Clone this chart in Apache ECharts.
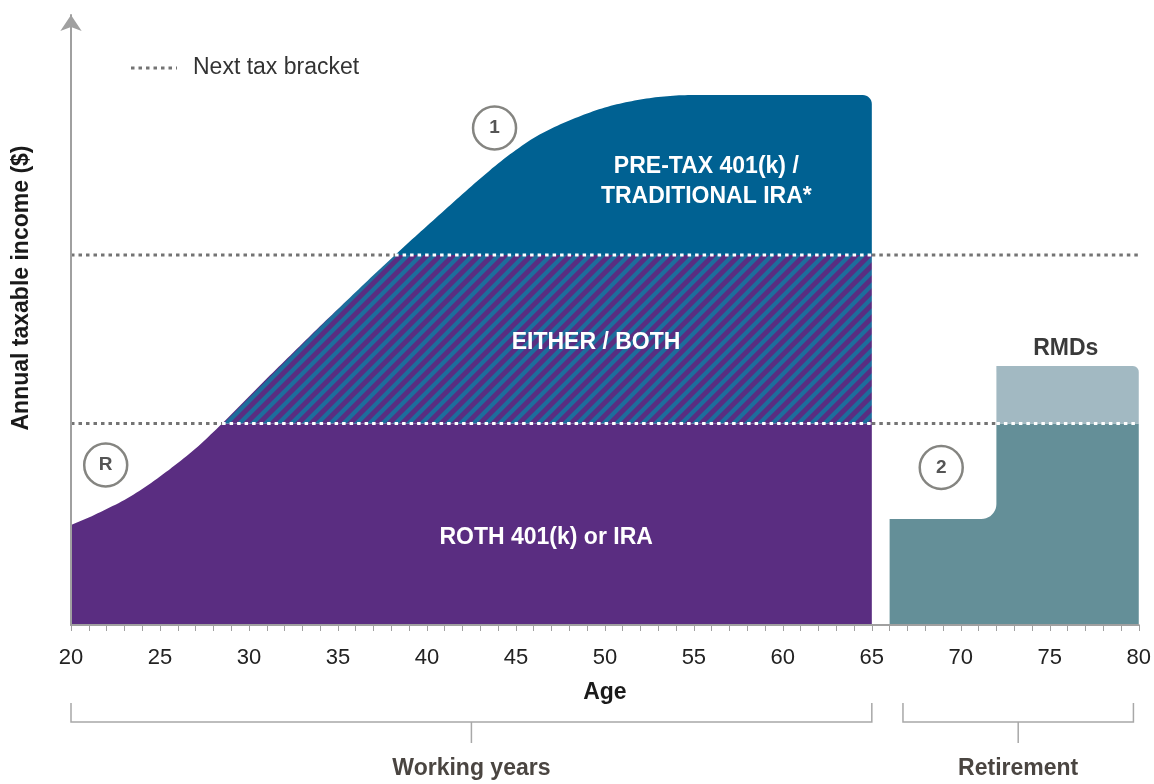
<!DOCTYPE html>
<html><head><meta charset="utf-8">
<script src="https://cdn.jsdelivr.net/npm/echarts@6/dist/echarts.min.js"></script>
<style>html,body{margin:0;padding:0;background:#fff}#c{width:1154px;height:784px}</style>
</head><body><div id="c"></div>
<script>
// ---------- data ----------
const ages = [20,21,22,23,24,25,26,27,28,29,30,31,32,33,34,35,36,37,38,39,40,41,42,43,44,45,46,47,48,49,50,51,52,53,54,55,56,57,58,59,60,61,62,63,64,65];
const income = [20.0,21.5,23.2,25.0,27.2,29.7,32.4,35.3,38.6,42.1,45.7,49.3,52.8,56.3,59.8,63.2,66.6,70.0,73.3,76.6,79.8,83.0,86.2,89.3,92.3,95.0,97.4,99.3,100.9,102.3,103.5,104.4,105.1,105.6,105.9,106,106,106,106,106,106,106,106,106,106,106];
const retireAges = [66, 72, 80];        // retirement start, RMDs start, end
const retireIncome = [21.2, 40.3];      // income before RMDs, base income after RMDs start
const rmdTop = 51.8;                    // income including RMDs
const bracketLevels = [40.3, 74];       // next tax brackets
const tickAges = [20,25,30,35,40,45,50,55,60,65,70,75,80];
const regionLabels = ['ROTH 401(k) or IRA', 'EITHER / BOTH', 'PRE-TAX 401(k) /\nTRADITIONAL IRA*', 'RMDs'];
const markerLabels = ['R', '1', '2'];
const periodLabels = ['Working years', 'Retirement'];

// ---------- annotation placement (data coords) ----------
const regionLabelPos = [[46.7,17.4],[49.5,56.4],[55.7,88.6],[75.9,55.2]];
const markerPos = [[21.95,32],[43.8,99.4],[68.9,31.5]];
const periodSpans = [[20,65],[66.75,79.7]];

const FONT = 'Liberation Sans, Arial, Helvetica, sans-serif';
const PURPLE = '#5a2d81', BLUE = '#006192', HATCH_BLUE = '#1d6d9c', TEAL = '#648f98', LIGHT = '#a2b9c2';
const DOT_GRAY = '#747474', AXIS_GRAY = '#a0a0a0';

function makeHatch(){
  const T = 13, c = document.createElement('canvas');
  c.width = T; c.height = T;
  const g = c.getContext('2d');
  g.fillStyle = PURPLE; g.fillRect(0,0,T,T);
  g.strokeStyle = HATCH_BLUE; g.lineWidth = 4.2;
  for (const k of [0, T, 2*T]) { g.beginPath(); g.moveTo(k+2,-2); g.lineTo(k-T-2,T+2); g.stroke(); }
  return c;
}
const hatch = {image: makeHatch(), repeat: 'repeat'};

// smooth drawing of the curve through the read points (monotone cubic, like smooth:true)
function smoothCurve(xs, ys, steps){
  const n = xs.length, d = [], m = new Array(n).fill(0);
  for (let i = 0; i < n-1; i++) d.push((ys[i+1]-ys[i])/(xs[i+1]-xs[i]));
  m[0] = d[0]; m[n-1] = d[n-2];
  for (let i = 1; i < n-1; i++) m[i] = (d[i-1]*d[i] <= 0) ? 0 : (d[i-1]+d[i])/2;
  const X = [], Y = [];
  for (let i = 0; i < n-1; i++){
    const h = xs[i+1]-xs[i];
    for (let k = 0; k < steps; k++){
      const t = k/steps, t2 = t*t, t3 = t2*t;
      X.push(xs[i] + t*h);
      Y.push((2*t3-3*t2+1)*ys[i] + (t3-2*t2+t)*h*m[i] + (-2*t3+3*t2)*ys[i+1] + (t3-t2)*h*m[i+1]);
    }
  }
  X.push(xs[n-1]); Y.push(ys[n-1]);
  return [X, Y];
}
const [cx, cy] = smoothCurve(ages, income, 6);

function bandPoints(lo, hi){
  const top = [];
  for (let i = 0; i < cx.length; i++){
    const a = cx[i], v = cy[i];
    if (i > 0){
      const pa = cx[i-1], pv = cy[i-1];
      if (pv < lo && v >= lo) top.push([pa + (lo-pv)/(v-pv)*(a-pa), lo]);
      if (pv < hi && v > hi) top.push([pa + (hi-pv)/(v-pv)*(a-pa), hi]);
    }
    if (v >= lo) top.push([a, Math.min(v, hi)]);
  }
  return top;
}
function arc(x0, y0, r, a0, a1, n){
  const out = [];
  for (let i = 0; i <= n; i++){ const t = a0 + (a1-a0)*i/n; out.push([x0 + r*Math.cos(t), y0 + r*Math.sin(t)]); }
  return out;
}

function renderWorking(params, api){
  const levels = [0, bracketLevels[0], bracketLevels[1], Infinity];
  const fills = [PURPLE, hatch, BLUE];
  const children = [];
  for (let b = 0; b < 3; b++){
    const lo = levels[b], hi = levels[b+1];
    const top = bandPoints(lo, hi);
    if (!top.length) continue;
    let px = top.map(p => api.coord(p));
    const bl = api.coord([top[0][0], lo]);
    const br = api.coord([top[top.length-1][0], lo]);
    if (hi === Infinity){
      const r = 9;
      const last = px.pop();
      while (px.length && px[px.length-1][0] > last[0]-r) px.pop();
      px = px.concat(arc(last[0]-r, last[1]+r, r, -Math.PI/2, 0, 8));
    }
    children.push({type:'polygon', shape:{points:[bl, ...px, br]}, style:{fill: fills[b]}});
  }
  return {type:'group', children};
}

function renderRetire(params, api){
  const [s, m, e] = retireAges;
  const p = (a, v) => api.coord([a, v]);
  const c = p(m, retireIncome[0]); const r1 = 15;
  const teal = [p(s,0), p(s,retireIncome[0])]
    .concat(arc(c[0]-r1, c[1]-r1, r1, Math.PI/2, 0, 10))
    .concat([p(m,retireIncome[1]), p(e,retireIncome[1]), p(e,0)]);
  const tr = p(e, rmdTop); const r2 = 6;
  const light = [p(m,retireIncome[1]), p(m,rmdTop)]
    .concat(arc(tr[0]-r2, tr[1]+r2, r2, -Math.PI/2, 0, 6))
    .concat([p(e,retireIncome[1])]);
  return {type:'group', children:[
    {type:'polygon', shape:{points:teal}, style:{fill:TEAL}},
    {type:'polygon', shape:{points:light}, style:{fill:LIGHT}}
  ]};
}

// bracket segments: white over filled areas, gray elsewhere
function bracketSegments(){
  const segs = [];
  const x0 = tickAges[0], x1 = tickAges[tickAges.length-1];
  bracketLevels.forEach(level => {
    let filled = [];
    const top = bandPoints(level, Infinity);
    if (top.length) filled.push([top[0][0], ages[ages.length-1]]);
    if (retireIncome[0] >= level) filled.push([retireAges[0], retireAges[1]]);
    if (Math.max(retireIncome[1], rmdTop) >= level) filled.push([retireAges[1], retireAges[2]]);
    filled.sort((a,b)=>a[0]-b[0]);
    const merged = [];
    filled.forEach(f => { if (merged.length && Math.abs(merged[merged.length-1][1]-f[0])<1e-9) merged[merged.length-1][1] = f[1]; else merged.push(f.slice()); });
    let cur = x0;
    merged.forEach(f => { if (f[0] > cur) segs.push([cur, f[0], level, 0]); segs.push([f[0], f[1], level, 1]); cur = f[1]; });
    if (cur < x1) segs.push([cur, x1, level, 0]);
  });
  return segs;
}

const chart = echarts.init(document.getElementById('c'));
const option = {
  animation: false,
  textStyle: {fontFamily: FONT},
  grid: {left: 71, right: 15, top: 15, bottom: 159},
  xAxis: {
    type: 'value', min: tickAges[0], max: tickAges[tickAges.length-1], interval: tickAges[1]-tickAges[0], z: 5,
    axisLine: {lineStyle: {color: AXIS_GRAY, width: 2}},
    axisTick: {show: true, length: 6, lineStyle: {color: AXIS_GRAY, width: 1}},
    minorTick: {show: true, splitNumber: 5, length: 6, lineStyle: {color: AXIS_GRAY, width: 1}},
    splitLine: {show: false},
    axisLabel: {fontSize: 22, color: '#222', margin: 22, fontFamily: FONT},
    name: 'Age', nameLocation: 'middle', nameGap: 56,
    nameTextStyle: {fontSize: 23, fontWeight: 'bold', color: '#1a1a1a', fontFamily: FONT}
  },
  yAxis: {
    type: 'value', min: 0, max: 122, z: 5,
    axisLine: {show: true, symbol: ['none','arrow'], symbolSize: [16,16], lineStyle: {color: AXIS_GRAY, width: 2}},
    axisTick: {show: false}, axisLabel: {show: false}, splitLine: {show: false}
  },
  series: [
    {type:'custom', name:'working', renderItem: renderWorking, data:[[20,0]], z:1, silent:true},
    {type:'custom', name:'retirement', renderItem: renderRetire, data:[[66,0]], z:1, silent:true},
    {type:'custom', name:'Next tax bracket', data: bracketSegments(), encode:{x:[0,1], y:2}, z:3, silent:true,
      renderItem(params, api){
        const a = api.coord([api.value(0), api.value(2)]), b = api.coord([api.value(1), api.value(2)]);
        return {type:'line', shape:{x1:a[0], y1:a[1], x2:b[0], y2:b[1]},
          style:{stroke: api.value(3) ? '#ffffff' : DOT_GRAY, lineWidth: 3, lineDash:[3.5,4]}};
      }},
    {type:'scatter', name:'labels', z:6, silent:true, symbolSize:1, itemStyle:{color:'rgba(0,0,0,0)', opacity:1},
      data: regionLabels.map((t,i)=>({name:t, value:regionLabelPos[i], label: t==='RMDs' ? {color:'#3a3a3a'} : undefined})),
      label:{show:true, opacity:1, position:'inside', formatter:(p)=>p.name, color:'#fff', fontSize:23, fontWeight:'bold', lineHeight:30, fontFamily: FONT}},
    {type:'scatter', name:'markers', z:6, silent:true, symbol:'circle', symbolSize:43,
      itemStyle:{color:'rgba(255,255,255,0)', borderColor:'#858581', borderWidth:2.5, opacity:1},
      data: markerLabels.map((t,i)=>({name:t, value:markerPos[i]})),
      label:{show:true, opacity:1, position:'inside', formatter:(p)=>p.name, color:'#555', fontSize:19, fontWeight:'bold', fontFamily: FONT}}
  ]
};
chart.setOption(option);

// graphics: legend, y title, period brackets below the axis
const g = [];
g.push({type:'line', shape:{x1:131, y1:68, x2:177, y2:68}, style:{stroke:DOT_GRAY, lineWidth:3, lineDash:[3.5,4]}});
g.push({type:'text', x:193, y:68, style:{text:'Next tax bracket', font:'23px '+FONT, fill:'#333', textVerticalAlign:'middle', verticalAlign:'middle'}});
g.push({type:'text', x:22, y:288, rotation:Math.PI/2, style:{text:'Annual taxable income ($)', font:'bold 23px '+FONT, fill:'#1a1a1a', align:'center', textAlign:'center', verticalAlign:'middle', textVerticalAlign:'middle'}});
periodSpans.forEach((sp, i) => {
  const a = chart.convertToPixel({xAxisIndex:0}, sp[0]);
  const b = chart.convertToPixel({xAxisIndex:0}, sp[1]);
  const mid = (a+b)/2;
  g.push({type:'polyline', shape:{points:[[a,703],[a,722],[b,722],[b,703]]}, style:{stroke:'#a8a8a8', lineWidth:1.5, fill:null}});
  g.push({type:'line', shape:{x1:mid, y1:722, x2:mid, y2:743}, style:{stroke:'#a8a8a8', lineWidth:1.5}});
  g.push({type:'text', x:mid, y:769, style:{text:periodLabels[i], font:'bold 23px '+FONT, fill:'#4a4541', align:'center', textAlign:'center', verticalAlign:'middle', textVerticalAlign:'middle'}});
});
chart.setOption({graphic: g});
</script>
</body></html>
